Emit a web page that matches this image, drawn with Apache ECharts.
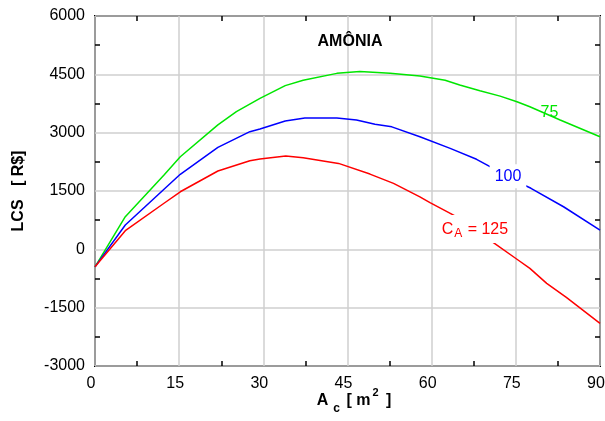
<!DOCTYPE html>
<html><head><meta charset="utf-8">
<script src="https://cdn.jsdelivr.net/npm/echarts@6/dist/echarts.min.js"></script>
<style>html,body{margin:0;padding:0;background:#fff}#c{width:605px;height:421px}</style>
</head><body><div id="c"></div>
<script>
const xTicks = [0, 15, 30, 45, 60, 75, 90];
const yTicks = [-3000, -1500, 0, 1500, 3000, 4500, 6000];

const x75 = [0, 5.4, 12.3, 15.2, 21.9, 25.2, 29.4, 33.9, 37.1, 43.1, 47.2, 52.6, 57.9, 62.4, 65, 68.6, 72.2, 75.2, 77.5, 82.9, 90];
const y75 = [-450, 840, 1910, 2380, 3200, 3540, 3880, 4210, 4350, 4525, 4570, 4525, 4455, 4350, 4225, 4080, 3940, 3795, 3665, 3325, 2895];

const x100 = [0, 5.4, 12.3, 15.2, 21.9, 27.6, 29.4, 33.9, 37.4, 43.1, 46.6, 49.9, 52.9, 57.9, 63.3, 68, 70.4, 73.6, 77.7, 83.5, 90];
const y100 = [-450, 625, 1545, 1930, 2620, 3025, 3095, 3300, 3375, 3375, 3325, 3215, 3150, 2895, 2595, 2315, 2125, 1850, 1570, 1095, 495];

const x125 = [0, 5.4, 12.3, 15.2, 21.9, 27.6, 29.4, 34, 37.1, 43.4, 49, 53.2, 57.9, 59.7, 63.9, 67.7, 71, 75.2, 77.5, 80.5, 84, 90];
const y125 = [-450, 480, 1185, 1480, 2015, 2280, 2320, 2400, 2355, 2210, 1935, 1695, 1350, 1200, 880, 520, 170, -255, -490, -875, -1235, -1905];

const labelPos75 = [81.0, 3504];
const labelPos100 = [73.6, 1880];
const labelPos125 = [67.7, 520];

const FONT = 'Liberation Sans';

function pairs(xs, ys) { return xs.map((x, i) => [x, ys[i]]); }

const minorTick = { show: true, splitNumber: 2, length: 5, lineStyle: { color: '#000', width: 1.5 } };
const splitLine = { show: true, lineStyle: { color: '#cfcfcf', width: 1.5 } };
const axisLine = { show: false, onZero: false };
const plain = v => String(v);

function mp(coord, text, color, rich, pad) {
  return {
    symbol: 'rect', symbolSize: [1, 1], itemStyle: { color: 'rgba(0,0,0,0)' },
    silent: true,
    data: [{ coord: coord }],
    label: {
      show: true, position: 'inside', formatter: text, color: color,
      fontFamily: FONT, fontSize: 16, backgroundColor: rich ? '#fff' : 'transparent',
      padding: pad || [1, 4], rich: rich || undefined
    }
  };
}

const chart = echarts.init(document.getElementById('c'), null, { renderer: 'canvas' });
chart.setOption({
  animation: false,
  backgroundColor: '#fff',
  grid: { left: 95, top: 16, width: 505, height: 350, show: true, borderColor: '#000', borderWidth: 2, backgroundColor: 'transparent', containLabel: false, outerBoundsMode: 'none' },
  graphic: [{
    type: 'text', x: 350, y: 42, z: 10,
    style: { text: 'AMÔNIA', align: 'center', verticalAlign: 'middle', fontFamily: FONT, fontSize: 16, fontWeight: 'bold', fill: '#000' }
  }, {
    type: 'text', x: 354, y: 401, z: 10,
    style: {
      text: '{a|A}{s|c}{a| [ m}{p|2}{a| ]}', align: 'center', verticalAlign: 'middle',
      rich: {
        a: { fontFamily: FONT, fontSize: 16, fontWeight: 'bold', fill: '#000', lineHeight: 28, verticalAlign: 'middle' },
        s: { fontFamily: FONT, fontSize: 12, fontWeight: 'bold', fill: '#000', lineHeight: 12, verticalAlign: 'bottom', padding: [0, 2, 0, 5] },
        p: { fontFamily: FONT, fontSize: 11, fontWeight: 'bold', fill: '#000', lineHeight: 12, verticalAlign: 'top', padding: [0, 3, 0, 2] }
      }
    }
  }],
  xAxis: [{
    type: 'value', position: 'bottom', min: xTicks[0], max: xTicks[xTicks.length - 1], interval: xTicks[1] - xTicks[0],
    axisLine: axisLine, axisTick: { show: false, inside: true }, minorTick: minorTick, splitLine: splitLine,
    axisLabel: { color: '#000', fontSize: 16, fontFamily: FONT, margin: 10, formatter: plain, padding: [0, 8, 0, 0] }
  }, {
    type: 'value', position: 'top', min: xTicks[0], max: xTicks[xTicks.length - 1], interval: xTicks[1] - xTicks[0],
    axisLine: axisLine, axisTick: { show: false, inside: true }, minorTick: minorTick, splitLine: { show: false },
    axisLabel: { show: false }
  }],
  yAxis: [{
    type: 'value', position: 'left', min: yTicks[0], max: yTicks[yTicks.length - 1], interval: yTicks[1] - yTicks[0],
    axisLine: axisLine, axisTick: { show: false, inside: true }, minorTick: minorTick, splitLine: splitLine,
    axisLabel: { color: '#000', fontSize: 16, fontFamily: FONT, margin: 10, formatter: plain },
    name: 'LCS   [ R$]', nameLocation: 'middle', nameRotate: 90, nameGap: 68,
    nameTextStyle: { fontFamily: FONT, fontSize: 16, fontWeight: 'bold', color: '#000' }
  }, {
    type: 'value', position: 'right', min: yTicks[0], max: yTicks[yTicks.length - 1], interval: yTicks[1] - yTicks[0],
    axisLine: axisLine, axisTick: { show: false, inside: true }, minorTick: minorTick, splitLine: { show: false },
    axisLabel: { show: false }
  }],
  series: [{
    type: 'line', name: '75', data: pairs(x75, y75), symbol: 'none', xAxisIndex: 0, yAxisIndex: 0,
    lineStyle: { color: '#00e600', width: 1.5 }, itemStyle: { color: '#00e600' },
    markPoint: mp(labelPos75, '75', '#00e600', null)
  }, {
    type: 'line', name: '100', data: pairs(x100, y100), symbol: 'none', xAxisIndex: 0, yAxisIndex: 0,
    lineStyle: { color: '#0000ff', width: 1.5 }, itemStyle: { color: '#0000ff' },
    markPoint: mp(labelPos100, '100', '#0000ff', {}, [4, 5])
  }, {
    type: 'line', name: '125', data: pairs(x125, y125), symbol: 'none', xAxisIndex: 0, yAxisIndex: 0,
    lineStyle: { color: '#ff0000', width: 1.5 }, itemStyle: { color: '#ff0000' },
    markPoint: mp(labelPos125, '{m|C}{s|A}{m| = 125}', '#ff0000', {
      m: { fontFamily: FONT, fontSize: 16, color: '#ff0000', lineHeight: 22, verticalAlign: 'middle' },
      s: { fontFamily: FONT, fontSize: 12, color: '#ff0000', lineHeight: 12, verticalAlign: 'bottom', padding: [0, 1, 0, 1] }
    }, [3, 3])
  }]
});
</script>
</body></html>
